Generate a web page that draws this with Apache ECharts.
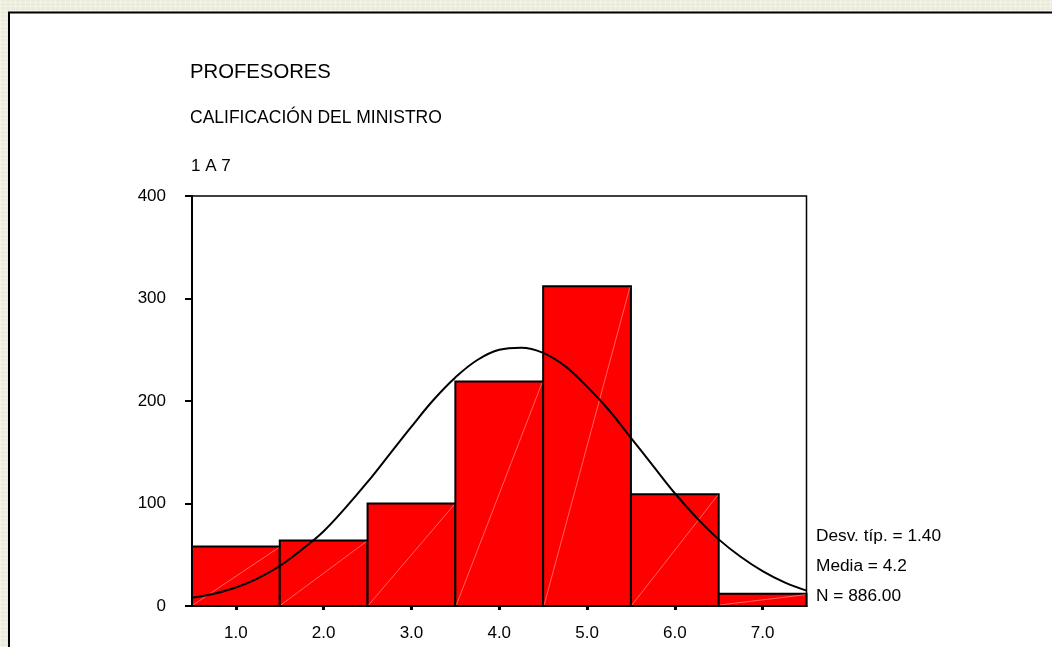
<!DOCTYPE html>
<html>
<head>
<meta charset="utf-8">
<style>
html,body{margin:0;padding:0;width:1052px;height:647px;overflow:hidden;
background-color:#ecebd9;
background-image:repeating-linear-gradient(0deg,rgba(255,255,255,0.35) 0 1px,transparent 1px 4px),repeating-linear-gradient(90deg,rgba(255,255,255,0.3) 0 1px,transparent 1px 5px);}
#chart{position:absolute;left:0;top:0;width:1052px;height:647px;}
</style>
<script src="https://cdn.jsdelivr.net/npm/echarts@6/dist/echarts.min.js"></script>
</head>
<body>
<div id="chart"></div>
<script>
// ---- data ----
var titleMain = 'PROFESORES';
var titleSub = 'CALIFICACIÓN DEL MINISTRO';
var titleScale = '1 A 7';
var binLower = [0.5, 1.5, 2.5, 3.5, 4.5, 5.5, 6.5];
var binUpper = [1.5, 2.5, 3.5, 4.5, 5.5, 6.5, 7.5];
var counts = [58, 64, 100, 219, 312, 109, 12];
var xTicks = [1, 2, 3, 4, 5, 6, 7];
var yTicks = [0, 100, 200, 300, 400];
var curveX = [0.5, 0.75, 1.0, 1.25, 1.5, 1.75, 2.0, 2.25, 2.5, 2.75, 3.0, 3.25, 3.5, 3.75, 4.0, 4.25, 4.5, 4.75, 5.0, 5.25, 5.5, 5.75, 6.0, 6.25, 6.5, 6.75, 7.0, 7.25, 7.5];
var curveY = [8, 12, 18, 27, 39, 55, 73, 96, 121, 148, 175, 201, 223, 240, 250, 252, 247, 234, 214, 191, 164, 137, 110, 86, 65, 48, 34, 23, 15];
var statsLines = ['Desv. típ. = 1.40', 'Media = 4.2', 'N = 886.00'];

var FONT = "'Liberation Sans', Arial, sans-serif";

var barData = binLower.map(function (lo, i) { return [lo, binUpper[i], counts[i]]; });
var curveData = curveX.map(function (x, i) { return [x, curveY[i]]; });

var chart = echarts.init(document.getElementById('chart'));

var graphics = [
  { type: 'rect', z: -10, shape: { x: 9, y: 12.5, width: 1200, height: 800 },
    style: { fill: '#ffffff', stroke: '#000000', lineWidth: 2 } },
  { type: 'text', left: 190, top: 62, style: { text: titleMain, font: '20.3px ' + FONT, fill: '#000' } },
  { type: 'text', left: 190, top: 109, style: { text: titleSub, font: '17.5px ' + FONT, fill: '#000' } },
  { type: 'text', left: 191, top: 158, style: { text: titleScale, font: '17px ' + FONT, fill: '#000' } }
];
var statTops = [528, 558, 588];
statsLines.forEach(function (s, i) {
  graphics.push({ type: 'text', left: 816, top: statTops[i], style: { text: s, font: '17.3px ' + FONT, fill: '#000' } });
});

chart.setOption({
  backgroundColor: 'transparent',
  animation: false,
  graphic: graphics,
  grid: { left: 192, top: 196, right: 245.5, bottom: 41, show: true, borderColor: '#000', borderWidth: 1.5, backgroundColor: 'transparent' },
  xAxis: {
    type: 'value', min: 0.5, max: 7.5,
    axisLine: { show: true, onZero: false, lineStyle: { color: '#000', width: 2 } },
    axisTick: { show: true, customValues: xTicks, length: 4, lineStyle: { color: '#000', width: 3 } },
    axisLabel: { customValues: xTicks, margin: 19, color: '#000', fontSize: 17, fontFamily: FONT,
      formatter: function (v) { return v.toFixed(1); } },
    splitLine: { show: false }
  },
  yAxis: {
    type: 'value', min: 0, max: 400, interval: 100,
    axisLine: { show: true, lineStyle: { color: '#000', width: 2 } },
    axisTick: { show: true, length: 7, lineStyle: { color: '#000', width: 2 } },
    axisLabel: { margin: 26, color: '#000', fontSize: 17, fontFamily: FONT, padding: [8, 0, 0, 0] },
    splitLine: { show: false }
  },
  series: [
    {
      type: 'custom', z: 2, data: barData,
      renderItem: function (params, api) {
        var x0 = api.value(0), x1 = api.value(1), v = api.value(2);
        var p0 = api.coord([x0, 0]), p1 = api.coord([x1, v]);
        return { type: 'group', children: [
          { type: 'rect', shape: { x: p0[0], y: p1[1], width: p1[0] - p0[0], height: p0[1] - p1[1] },
            style: { fill: '#ff0000', stroke: '#000', lineWidth: 2 } },
          { type: 'line', shape: { x1: p0[0] + 1, y1: p0[1] - 1, x2: p1[0] - 1, y2: p1[1] + 1 },
            style: { stroke: 'rgba(255,200,200,0.7)', lineWidth: 0.7 } }
        ] };
      }
    },
    {
      type: 'line', z: 3, data: curveData, smooth: 0.4, symbol: 'none',
      lineStyle: { color: '#000', width: 2 }
    }
  ]
});
</script>
</body>
</html>
